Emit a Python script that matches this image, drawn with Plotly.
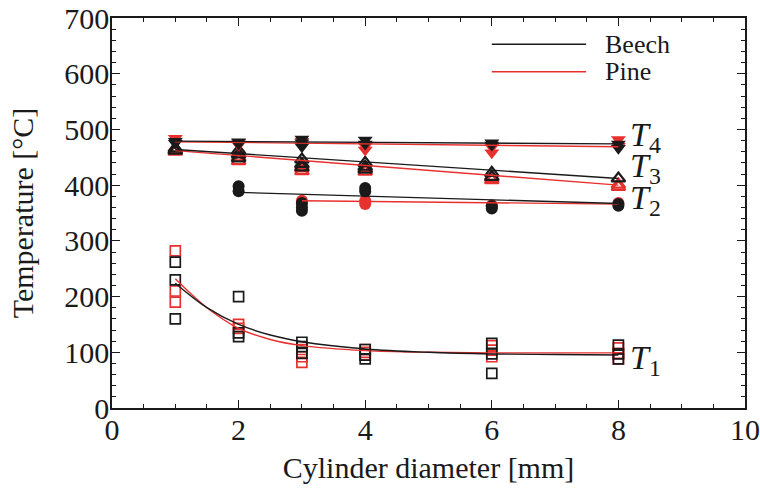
import plotly.graph_objects as go

# ---------------- data ----------------
# T1 : open squares
beech_T1_x = [1, 1, 1, 2, 2, 2, 3, 3, 3, 4, 4, 4, 6, 6, 6, 8, 8, 8]
beech_T1_y = [262, 230, 160, 200, 135, 128, 118, 110, 98, 105, 95, 88, 116, 97, 62, 113, 97, 88]
pine_T1_x = [1, 1, 1, 2, 2, 3, 3, 3, 4, 4, 4, 6, 6, 6, 8, 8, 8]
pine_T1_y = [282, 210, 190, 150, 143, 105, 92, 82, 105, 100, 95, 112, 104, 92, 108, 98, 88]

# T2 : filled circles
beech_T2_x = [2, 2, 3, 3, 3, 4, 4, 6, 6, 8, 8]
beech_T2_y = [398, 389, 368, 360, 354, 395, 389, 362, 358, 366, 363]
pine_T2_x = [3, 3, 4, 4, 6, 8]
pine_T2_y = [372, 367, 372, 366, 364, 368]

# T3 : triangles up
beech_T3_x = [1, 1, 2, 2, 2, 3, 3, 3, 4, 4, 4, 6, 6, 8]
beech_T3_y = [466, 462, 462, 455, 448, 446, 438, 432, 440, 433, 428, 422, 415, 412]
pine_T3_x = [1, 1, 2, 2, 2, 3, 3, 3, 4, 4, 6, 6, 8, 8]
pine_T3_y = [463, 460, 456, 450, 443, 436, 430, 425, 430, 424, 413, 409, 401, 397]

# T4 : triangles down
beech_T4_x = [1, 1, 2, 2, 3, 3, 3, 4, 4, 6, 6, 8, 8]
beech_T4_y = [479, 475, 478, 474, 483, 476, 469, 481, 474, 476, 472, 474, 466]
pine_T4_x = [1, 2, 2, 3, 3, 4, 4, 6, 6, 8, 8]
pine_T4_y = [484, 477, 472, 479, 471, 470, 463, 468, 458, 482, 470]

# fitted curves
beech_T1_fit_x = [1, 1.5, 2, 2.5, 3, 4, 5, 6, 7, 8]
beech_T1_fit_y = [224, 180, 150, 131, 119, 106, 100, 97, 96, 95]
pine_T1_fit_x = [1, 1.5, 2, 2.5, 3, 4, 5, 6, 7, 8]
pine_T1_fit_y = [232, 180, 143, 123, 112, 103, 100, 99, 99, 99]
beech_T2_fit_x = [2, 8]
beech_T2_fit_y = [387, 367]
pine_T2_fit_x = [3, 8]
pine_T2_fit_y = [372, 366]
beech_T3_fit_x = [1, 8]
beech_T3_fit_y = [464, 412]
pine_T3_fit_x = [1, 8]
pine_T3_fit_y = [462, 400]
beech_T4_fit_x = [1, 8]
beech_T4_fit_y = [479, 474]
pine_T4_fit_x = [1, 8]
pine_T4_fit_y = [478, 469]

series_labels = ["T4", "T3", "T2", "T1"]
label_y = [486, 431, 373, 86]

BLACK = "#1a1a1a"
RED = "#e8312f"
FONT = "Liberation Serif"

fig = go.Figure()

def pts(x, y, color, symbol, size, lw=0):
    marker = dict(symbol=symbol, size=size, color=color,
                  line=dict(color=color, width=lw))
    fig.add_trace(go.Scatter(x=x, y=y, mode="markers", marker=marker,
                             showlegend=False, hoverinfo="skip"))

def line(x, y, color, shape="linear"):
    fig.add_trace(go.Scatter(x=x, y=y, mode="lines", line=dict(color=color, width=1.4, shape=shape),
                             showlegend=False, hoverinfo="skip"))

# pine first (red), then beech (black) on top
pts(pine_T1_x, pine_T1_y, RED, "square-open", 10, 1.7)
pts(beech_T1_x, beech_T1_y, BLACK, "square-open", 10, 1.7)
pts(pine_T2_x, pine_T2_y, RED, "circle", 12)
pts(beech_T2_x, beech_T2_y, BLACK, "circle", 12)
pts(pine_T3_x, pine_T3_y, RED, "triangle-up-open", 12, 2.2)
pts(beech_T3_x, beech_T3_y, BLACK, "triangle-up-open", 12, 2.2)
pts(pine_T4_x, pine_T4_y, RED, "triangle-down", 13)
pts(beech_T4_x, beech_T4_y, BLACK, "triangle-down", 13)

line(pine_T1_fit_x, pine_T1_fit_y, RED, "spline")
line(beech_T1_fit_x, beech_T1_fit_y, BLACK, "spline")
line(pine_T2_fit_x, pine_T2_fit_y, RED)
line(beech_T2_fit_x, beech_T2_fit_y, BLACK)
line(pine_T3_fit_x, pine_T3_fit_y, RED)
line(beech_T3_fit_x, beech_T3_fit_y, BLACK)
line(pine_T4_fit_x, pine_T4_fit_y, RED)
line(beech_T4_fit_x, beech_T4_fit_y, BLACK)

annotations = []
for lab, yy in zip(series_labels, label_y):
    annotations.append(dict(x=8.15, y=yy, xref="x", yref="y", xanchor="left", yanchor="middle",
                            text="<i>T</i><sub>%s</sub>" % lab[1], showarrow=False,
                            font=dict(family=FONT, size=34, color=BLACK)))

# legend drawn manually
legend_names = ["Beech", "Pine"]
legend_colors = [BLACK, RED]
legend_py = [0.933, 0.862]
shapes = []
for name, col, py in zip(legend_names, legend_colors, legend_py):
    shapes.append(dict(type="line", xref="paper", yref="paper", x0=0.600, x1=0.749, y0=py, y1=py,
                       line=dict(color=col, width=1.5)))
    annotations.append(dict(x=0.776, y=py, xref="paper", yref="paper", xanchor="left", yanchor="middle",
                            text=name, showarrow=False, font=dict(family=FONT, size=26, color=BLACK)))

axis_common = dict(showline=True, linecolor=BLACK, linewidth=1.5, mirror="ticks",
                   ticks="inside", ticklen=8, tickwidth=1.2, tickcolor=BLACK,
                   showgrid=False, zeroline=False, automargin=False,
                   tickfont=dict(family=FONT, size=30, color=BLACK))

fig.update_layout(
    width=760, height=499,
    margin=dict(l=112, r=15, t=18, b=91),
    paper_bgcolor="white", plot_bgcolor="white",
    xaxis=dict(range=[0, 10], dtick=2, tick0=0, ticklabelstandoff=-6,
               minor=dict(dtick=0.5, ticks="inside", ticklen=4, tickcolor=BLACK),
               title=dict(text="Cylinder diameter [mm]", font=dict(family=FONT, size=30, color=BLACK), standoff=12),
               **axis_common),
    yaxis=dict(range=[0, 700], dtick=100, tick0=0, ticklabelstandoff=-5,
               minor=dict(dtick=20, ticks="inside", ticklen=4, tickcolor=BLACK),
               title=dict(text="Temperature [°C]", font=dict(family=FONT, size=30, color=BLACK), standoff=22),
               **axis_common),
    annotations=annotations,
    shapes=shapes,
    showlegend=False,
)

fig.write_html("out.html")
